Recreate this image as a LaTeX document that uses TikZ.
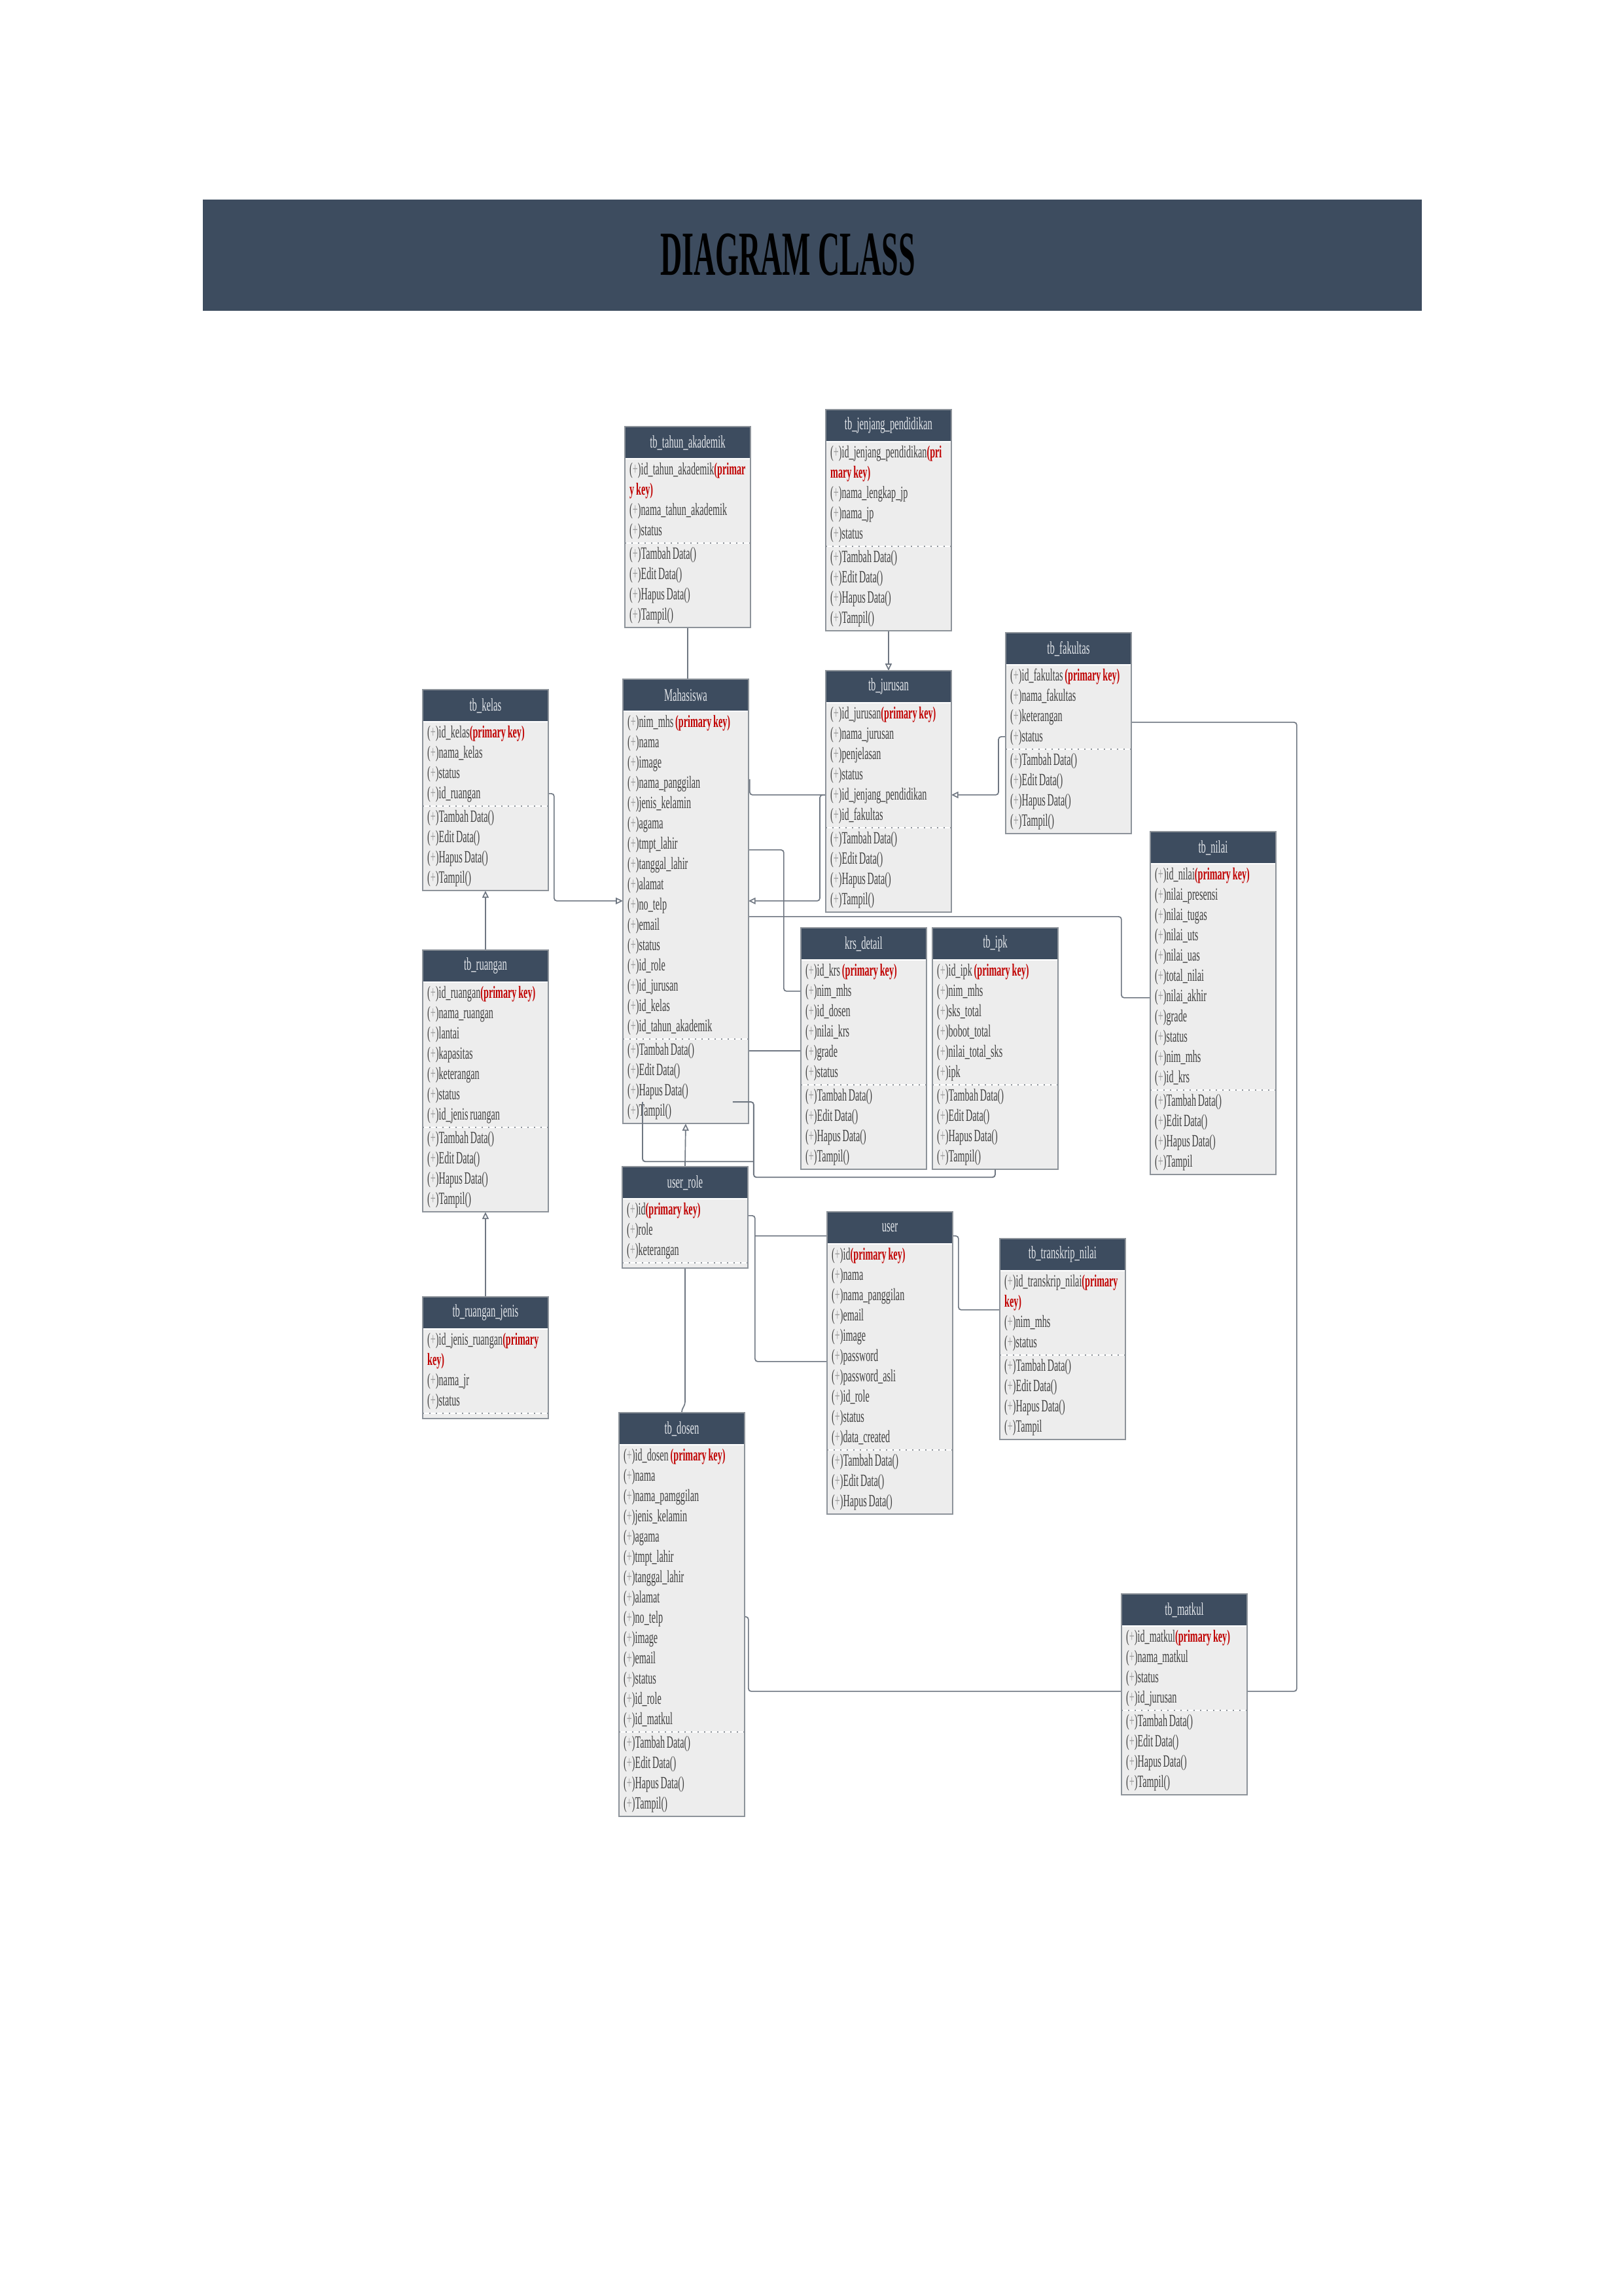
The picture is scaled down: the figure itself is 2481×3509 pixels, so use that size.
\documentclass[tikz,border=0pt]{standalone}
\usepackage{fontspec}
\setmainfont{Liberation Serif}[FakeStretch=0.54, WordSpace=0.8]
\newfontfamily\headfont{Liberation Serif}[FakeStretch=0.48]
\usetikzlibrary{arrows.meta, positioning, calc, backgrounds}
\definecolor{cslate}{HTML}{3D4C5F}
\definecolor{cbody}{HTML}{EDEDED}
\definecolor{cedge}{HTML}{8D939A}
\definecolor{cline}{HTML}{6F7782}
\definecolor{ctext}{HTML}{3F3F3F}
\definecolor{cplus}{HTML}{9A9A9A}
\definecolor{cpk}{HTML}{C00000}
\definecolor{chead}{HTML}{E4E7EB}
\hyphenpenalty=10000
\exhyphenpenalty=10000
\tikzset{
  every picture/.style={line width=0.45pt},
  clshead/.style={fill=cslate, text=chead, anchor=north west, minimum width=45.6pt, minimum height=11.28pt, inner sep=0pt, font=\fontsize{6.5}{7.44}\selectfont},
  clsbody/.style={fill=cbody, text=ctext, text width=42.6pt, inner xsep=1.5pt, inner ysep=0.4pt, align=flush left, font=\fontsize{6.3}{7.44}\selectfont, execute at begin node=\strut, execute at end node=\strut},
  clsnone/.style={fill=cbody, minimum width=45.6pt, minimum height=1.44pt, inner sep=0pt},
  clsedge/.style={draw=cedge, line width=0.5pt},
  clssep/.style={draw=cedge, dotted, line width=0.4pt},
  assoc/.style={draw=cline, rounded corners=1pt},
  tohead/.style={assoc, -{Triangle[open, length=2.6pt, width=2.4pt]}},
}
\newcommand{\pl}{(\textcolor{cplus}{+})}
\newcommand{\pk}[1]{\textcolor{cpk}{\bfseries #1}}
\newcommand{\crud}{\pl Tambah Data()\\\pl Edit Data()\\\pl Hapus Data()\\\pl Tampil()}
\newcommand{\umlclass}[6][clsbody]{%
  \node[clshead] (#2) at #3 {#4};
  \node[clsbody, below=0pt of #2] (#2-a) {#5};
  \node[#1, below=0pt of #2-a] (#2-m) {#6};
  \draw[clsedge] (#2.north west) rectangle (#2-m.south east);
  \draw[clssep] (#2-m.north west) -- (#2-m.north east);
}

\begin{document}
\begin{tikzpicture}[x=0.24pt, y=-0.24pt]
  \useasboundingbox (0,0) rectangle (2481,3509);

  % ---- title
  \node[fill=cslate, anchor=north west, minimum width=447.1pt, minimum height=40.8pt, inner sep=0pt] (bar) at (309,304) {};
  \node[font=\headfont\bfseries\fontsize{23}{27}\selectfont, text=black] (ttl) at (1204,389) {DIAGRAM CLASS};

  % ---- top row
  \umlclass{tahun}{(955,652)}{tb\_tahun\_akademik}
    {\pl id\_tahun\_akademik\pk{(primar}\\\pk{y key)}\\\pl nama\_tahun\_akademik\\\pl status}{\crud}
  \umlclass{jenjang}{(1262,626)}{tb\_jenjang\_pendidikan}
    {\pl id\_jenjang\_pendidikan\pk{(pri}\\\pk{mary key)}\\\pl nama\_lengkap\_jp\\\pl nama\_jp\\\pl status}{\crud}
  \umlclass{fak}{(1537,967)}{tb\_fakultas}
    {\pl id\_fakultas \pk{(primary key)}\\\pl nama\_fakultas\\\pl keterangan\\\pl status}{\crud}

  % ---- middle
  \umlclass{kls}{(646,1054)}{tb\_kelas}
    {\pl id\_kelas\pk{(primary key)}\\\pl nama\_kelas\\\pl status\\\pl id\_ruangan}{\crud}
  \umlclass{mhs}{(952,1038)}{Mahasiswa}
    {\pl nim\_mhs \pk{(primary key)}\\\pl nama\\\pl image\\\pl nama\_panggilan\\\pl jenis\_kelamin\\\pl agama\\\pl tmpt\_lahir\\\pl tanggal\_lahir\\\pl alamat\\\pl no\_telp\\\pl email\\\pl status\\\pl id\_role\\\pl id\_jurusan\\\pl id\_kelas\\\pl id\_tahun\_akademik}{\crud}
  \umlclass{jur}{(1262,1025)}{tb\_jurusan}
    {\pl id\_jurusan\pk{(primary key)}\\\pl nama\_jurusan\\\pl penjelasan\\\pl status\\\pl id\_jenjang\_pendidikan\\\pl id\_fakultas}{\crud}
  \umlclass{nilai}{(1758,1271)}{tb\_nilai}
    {\pl id\_nilai\pk{(primary key)}\\\pl nilai\_presensi\\\pl nilai\_tugas\\\pl nilai\_uts\\\pl nilai\_uas\\\pl total\_nilai\\\pl nilai\_akhir\\\pl grade\\\pl status\\\pl nim\_mhs\\\pl id\_krs}
    {\pl Tambah Data()\\\pl Edit Data()\\\pl Hapus Data()\\\pl Tampil}
  \umlclass{krs}{(1224,1418)}{krs\_detail}
    {\pl id\_krs \pk{(primary key)}\\\pl nim\_mhs\\\pl id\_dosen\\\pl nilai\_krs\\\pl grade\\\pl status}{\crud}
  \umlclass{ipk}{(1425,1418)}{tb\_ipk}
    {\pl id\_ipk \pk{(primary key)}\\\pl nim\_mhs\\\pl sks\_total\\\pl bobot\_total\\\pl nilai\_total\_sks\\\pl ipk}{\crud}
  \umlclass{ruang}{(646,1452)}{tb\_ruangan}
    {\pl id\_ruangan\pk{(primary key)}\\\pl nama\_ruangan\\\pl lantai\\\pl kapasitas\\\pl keterangan\\\pl status\\\pl id\_jenis ruangan}{\crud}

  % ---- lower
  \umlclass[clsnone]{rjenis}{(646,1982)}{tb\_ruangan\_jenis}
    {\pl id\_jenis\_ruangan\pk{(primary}\\\pk{key)}\\\pl nama\_jr\\\pl status}{}
  \umlclass[clsnone]{urole}{(951,1783)}{user\_role}
    {\pl id\pk{(primary key)}\\\pl role\\\pl keterangan}{}
  \umlclass{usr}{(1264,1852)}{user}
    {\pl id\pk{(primary key)}\\\pl nama\\\pl nama\_panggilan\\\pl email\\\pl image\\\pl password\\\pl password\_asli\\\pl id\_role\\\pl status\\\pl data\_created}
    {\pl Tambah Data()\\\pl Edit Data()\\\pl Hapus Data()}
  \umlclass{tnilai}{(1528,1893)}{tb\_transkrip\_nilai}
    {\pl id\_transkrip\_nilai\pk{(primary}\\\pk{key)}\\\pl nim\_mhs\\\pl status}
    {\pl Tambah Data()\\\pl Edit Data()\\\pl Hapus Data()\\\pl Tampil}
  \umlclass{dosen}{(946,2159)}{tb\_dosen}
    {\pl id\_dosen \pk{(primary key)}\\\pl nama\\\pl nama\_pamggilan\\\pl jenis\_kelamin\\\pl agama\\\pl tmpt\_lahir\\\pl tanggal\_lahir\\\pl alamat\\\pl no\_telp\\\pl image\\\pl email\\\pl status\\\pl id\_role\\\pl id\_matkul}{\crud}
  \umlclass{matkul}{(1714,2436)}{tb\_matkul}
    {\pl id\_matkul\pk{(primary key)}\\\pl nama\_matkul\\\pl status\\\pl id\_jurusan}{\crud}

  \coordinate (krsg) at ($(krs-a.north west)+(0,139)$);

  % ---- connectors (behind the boxes)
  \begin{scope}[on background layer]
    \fill[white] (0,0) rectangle (2481,3509);
    \draw[assoc] (tahun-m.south) -- (tahun-m.south |- mhs.north);
    \draw[tohead] (jenjang-m.south) -- (jur.north);
    \draw[tohead] ($(fak-a.north west)+(0,110)$) -- ++(-11,0) |- ($(jur-a.north east)+(0,141)$);
    \draw[assoc] ($(mhs-a.north east)+(2,104)$) |- ($(jur-a.north west)+(0,141)$);
    \draw[tohead] ($(jur-a.north west)+(0,141)$) -- ++(-9,0) |- ($(mhs-a.north east)+(0,290)$);
    \draw[tohead] ($(kls-a.north east)+(0,110)$) -- ++(9,0) |- ($(mhs-a.north west)+(0,290)$);
    \draw[tohead] (ruang.north) -- (kls-m.south);
    \draw[tohead] (rjenis.north) -- (ruang-m.south);
    \draw[assoc] ($(mhs-a.north east)+(0,212)$) -- ++(54,0) |- ($(krs-a.north west)+(0,48)$);
    \draw[assoc] (mhs-m.east |- krsg) -- (krsg);
    \draw[assoc] ($(mhs-a.north east)+(0,314)$) -- ++(570,0) |- ($(nilai-a.north west)+(0,205)$);
    \draw[tohead] (urole.north) -- (mhs-m.south);
    \draw[assoc] ($(urole-a.north east)+(0,26)$) -- ++(11,0) |- ($(usr-a.north west)+(0,180)$);
    \draw[assoc] ($(urole-a.north east)+(11,57)$) -- ++(311,0) |- ($(tnilai-a.north west)+(0,60)$);
    \draw[assoc] (urole-m.south) -- ++(0,209) -- ++(-5,7) -- (dosen.north);
    \draw[assoc] ($(dosen-a.north east)+(0,263)$) -- ++(6,0) |- ($(matkul-a.north west)+(0,100)$);
    \draw[assoc] ($(matkul-a.north east)+(0,100)$) -- ++(76,0) |- ($(fak-a.north east)+(0,88)$);
  \end{scope}

  % ---- lines drawn over Mahasiswa
  \draw[assoc] ($(mhs-m.north east)+(-24,96)$) -- ++(32,0) |- ($(ipk-m.south)+(0,12)$) -- (ipk-m.south);
  \draw[assoc] ($(mhs-m.north west)+(30,96)$) |- ($(mhs-m.south east)+(8,58)$);
\end{tikzpicture}
\end{document}
